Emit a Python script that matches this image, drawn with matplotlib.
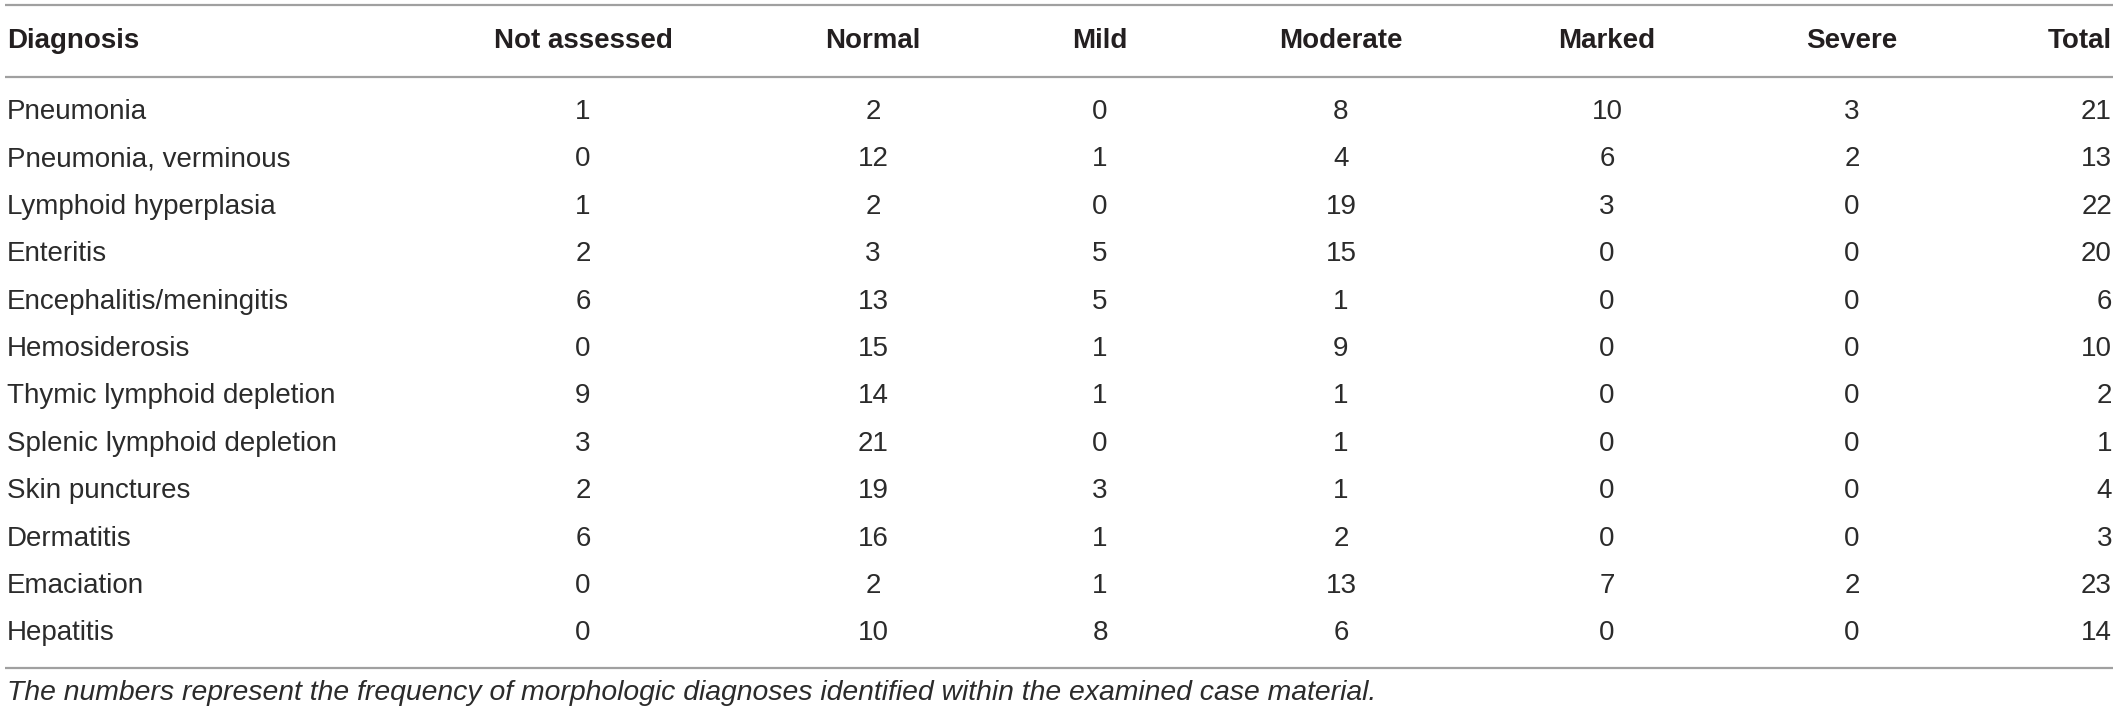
import matplotlib
matplotlib.use("Agg")
import matplotlib.pyplot as plt

# ---- data ----
columns = ["Diagnosis", "Not assessed", "Normal", "Mild", "Moderate", "Marked", "Severe", "Total"]
diagnoses = [
    "Pneumonia", "Pneumonia, verminous", "Lymphoid hyperplasia", "Enteritis",
    "Encephalitis/meningitis", "Hemosiderosis", "Thymic lymphoid depletion",
    "Splenic lymphoid depletion", "Skin punctures", "Dermatitis", "Emaciation", "Hepatitis",
]
not_assessed = [1, 0, 1, 2, 6, 0, 9, 3, 2, 6, 0, 0]
normal = [2, 12, 2, 3, 13, 15, 14, 21, 19, 16, 2, 10]
mild = [0, 1, 0, 5, 5, 1, 1, 0, 3, 1, 1, 8]
moderate = [8, 4, 19, 15, 1, 9, 1, 1, 1, 2, 13, 6]
marked = [10, 6, 3, 0, 0, 0, 0, 0, 0, 0, 7, 0]
severe = [3, 2, 0, 0, 0, 0, 0, 0, 0, 0, 2, 0]
total = [21, 13, 22, 20, 6, 10, 2, 1, 4, 3, 23, 14]
caption = "The numbers represent the frequency of morphologic diagnoses identified within the examined case material."

# ---- layout (pixel space) ----
W, H = 2118, 717
fig = plt.figure(figsize=(W / 100, H / 100), dpi=100)
ax = fig.add_axes([0, 0, 1, 1])
ax.set_xlim(0, W)
ax.set_ylim(H, 0)
ax.axis("off")

FONT = ["Liberation Sans", "DejaVu Sans"]
FS = 20
TXT = "#231f20"
BODY = "#2b2b2b"
LINE = "#a0a0a0"

col_x = [7, 583, 873, 1100, 1341, 1607, 1852, 2112]
col_ha = ["left", "center", "center", "center", "center", "center", "center", "right"]

header_y = 41
row_y0 = 112
row_dy = 47.4
top_line, head_line, bottom_line = 5, 77, 668
caption_y = 693

for y in (top_line, head_line, bottom_line):
    ax.plot([5, 2113], [y, y], color=LINE, lw=1.6, solid_capstyle="butt")

for x, ha, name in zip(col_x, col_ha, columns):
    ax.text(x, header_y, name, ha=ha, va="center", fontsize=FS, fontweight="bold",
            family=FONT, color=TXT)

series = [diagnoses, not_assessed, normal, mild, moderate, marked, severe, total]
for i in range(len(diagnoses)):
    y = row_y0 + i * row_dy
    for x, ha, s in zip(col_x, col_ha, series):
        ax.text(x, y, str(s[i]), ha=ha, va="center", fontsize=FS,
                family=FONT, color=BODY)

ax.text(7, caption_y, caption, ha="left", va="center", fontsize=20.4, style="italic",
        family=FONT, color=BODY)

fig.savefig("out.png", dpi=100)
